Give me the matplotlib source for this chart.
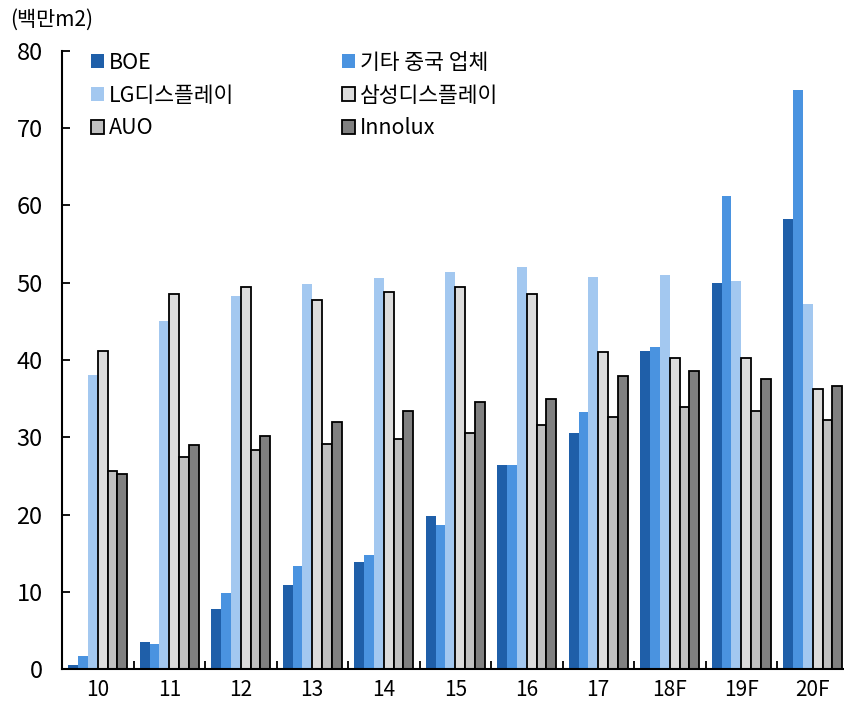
import matplotlib
matplotlib.use("Agg")
import matplotlib.pyplot as plt
import numpy as np

plt.rcParams['font.family'] = ['Noto Sans CJK KR', 'DejaVu Sans']

years = ["10", "11", "12", "13", "14", "15", "16", "17", "18F", "19F", "20F"]
boe = [0.5, 3.5, 7.8, 10.9, 13.9, 19.8, 26.4, 30.6, 41.2, 50.0, 58.2]
china_etc = [1.7, 3.3, 9.9, 13.3, 14.7, 18.6, 26.4, 33.3, 41.7, 61.2, 75.0]
lgd = [38.0, 45.0, 48.3, 49.9, 50.6, 51.4, 52.1, 50.7, 51.0, 50.2, 47.2]
samsung = [41.2, 48.5, 49.5, 47.8, 48.8, 49.4, 48.5, 41.0, 40.3, 40.3, 36.3]
auo = [25.6, 27.5, 28.4, 29.1, 29.8, 30.5, 31.6, 32.6, 33.9, 33.4, 32.2]
innolux = [25.3, 29.0, 30.2, 32.0, 33.4, 34.6, 35.0, 37.9, 38.6, 37.5, 36.6]

series = [
    ("BOE", boe, "#1f5fa9", None),
    ("기타 중국 업체", china_etc, "#4a93e0", None),
    ("LG디스플레이", lgd, "#a3c8f0", None),
    ("삼성디스플레이", samsung, "#dcdcdc", "black"),
    ("AUO", auo, "#c0c0c0", "black"),
    ("Innolux", innolux, "#808080", "black"),
]

fig = plt.figure(figsize=(8.44, 7.07), dpi=100)
ax = fig.add_axes([62 / 844, 38 / 707, 786.5 / 844, 618 / 707])

x = np.arange(len(years))
w = 0.1375
handles = []
for i, (name, vals, color, edge) in enumerate(series):
    off = (i - 2.5) * w
    if edge:
        b = ax.bar(x + off, vals, w, color=color, edgecolor=edge, linewidth=1.3, label=name)
    else:
        b = ax.bar(x + off, vals, w, color=color, linewidth=0, label=name)
    handles.append(b)

ax.set_xlim(-0.5, len(years) - 0.5)
ax.set_ylim(0, 80)
ax.set_yticks(range(0, 81, 10))
ax.tick_params(axis='y', direction='in', length=6, width=1.3, labelsize=17, pad=14)
ax.set_xticks(x)
ax.set_xticklabels(years)
ax.tick_params(axis='x', which='major', length=0, labelsize=15, pad=7)
ax.set_xticks(np.arange(-0.5, len(years), 1), minor=True)
ax.tick_params(axis='x', which='minor', direction='in', length=6, width=1.3)

for s in ['top', 'right']:
    ax.spines[s].set_visible(False)
ax.spines['left'].set_linewidth(1.5)
ax.spines['bottom'].set_linewidth(1.5)

# row-major order: legend fills columns first
order = [0, 2, 4, 1, 3, 5]
ax.legend([handles[i] for i in order], [series[i][0] for i in order],
          loc='upper left', bbox_to_anchor=(0.012, 1.03), ncol=2, frameon=False,
          fontsize=15.5, handlelength=0.6, handleheight=0.6, handletextpad=0.25,
          columnspacing=5.0, labelspacing=0.5)

fig.text(10 / 844, 1 - 20 / 707, "(백만m2)", fontsize=15, va='center', ha='left')

fig.savefig("out.png", dpi=100)
